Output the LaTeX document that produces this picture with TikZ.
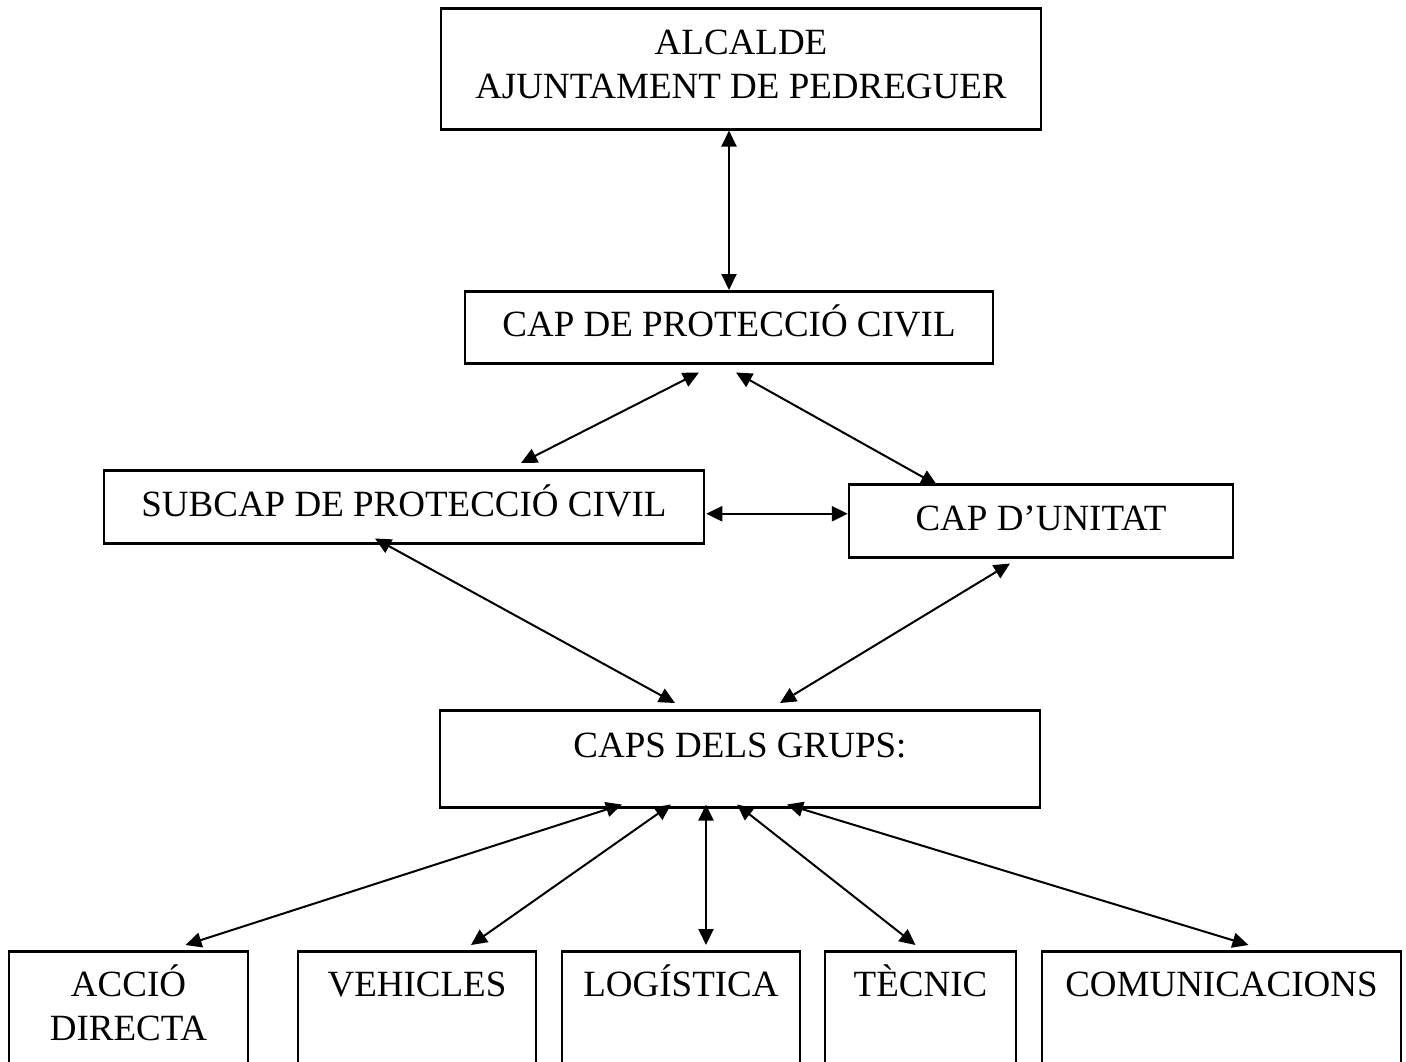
\documentclass[tikz,border=0pt]{standalone}
\usepackage{fontspec}
\setmainfont{Liberation Serif}
\usetikzlibrary{arrows.meta,calc}
\tikzset{
  caixa/.style={draw, line width=2.5pt, anchor=north, inner sep=0pt, text height=46pt, font=\fontsize{37}{44}\selectfont},
}
\begin{document}
\begin{tikzpicture}[x=1pt, y=-1pt, >={Triangle[length=16pt,width=15pt]}, line width=2pt]
\useasboundingbox (0,0) rectangle (1406,1061);
\node[caixa, minimum width=600pt, text depth=75pt] (alc) at (741,7)
    {\begin{tabular}[t]{@{}c@{}}ALCALDE\\AJUNTAMENT DE PEDREGUER\end{tabular}};
\node[caixa, minimum width=528pt, text height=45pt, text depth=27pt] (cap) at (729,290) {CAP DE PROTECCIÓ CIVIL};
\node[caixa, minimum width=600pt, text depth=27pt] (sub) at (404,469) {SUBCAP DE PROTECCIÓ CIVIL};
\node[caixa, minimum width=384pt, text depth=27pt] (uni) at (1041,483) {CAP D’UNITAT};
\node[caixa, minimum width=600pt, text height=47pt, text depth=50pt] (grp) at (740,709) {CAPS DELS GRUPS:};
% grups
\node[caixa, minimum width=239pt, text height=45pt, text depth=150pt] (acc) at (128.5,950)
    {\begin{tabular}[t]{@{}c@{}}ACCIÓ\\DIRECTA\end{tabular}};
\node[caixa, minimum width=238pt, text height=45pt, text depth=150pt] (veh) at (417,950) {VEHICLES};
\node[caixa, minimum width=238pt, text height=45pt, text depth=150pt] (log) at (681,950) {LOGÍSTICA};
\node[caixa, minimum width=191pt, text height=45pt, text depth=150pt] (tec) at (920.5,950) {TÈCNIC};
\node[caixa, minimum width=359pt, text height=45pt, text depth=150pt] (com) at (1221.5,950) {COMUNICACIONS};
\draw[<->] (cap.north |- alc.south) -- (cap.north);
\draw[<->] ($(cap.south)+(-30,8)$) -- ($(sub.north)+(117,-6)$);
\draw[<->] ($(cap.south)+(7,8)$) -- ($(uni.north)+(-104,2)$);
\draw[<->, line width=2.5pt] ($(sub.east)+(1,7)$) -- ($(uni.west)+(0,-7)$);
\draw[<->] ($(sub.south)+(-29,-6)$) -- ($(grp.north)+(-65,-6)$);
\draw[<->] ($(uni.south)+(-31,5)$) -- ($(grp.north)+(40,-6)$);
\foreach \n/\a/\b in {acc/-118/57, veh/-69/54, log/-34/25, tec/-3/-5, com/47/27}
{
    \draw[<->] ($(grp.south)+(\a,-4)$) -- ($(\n.north)+(\b,-5)$);
}
\end{tikzpicture}
\end{document}
